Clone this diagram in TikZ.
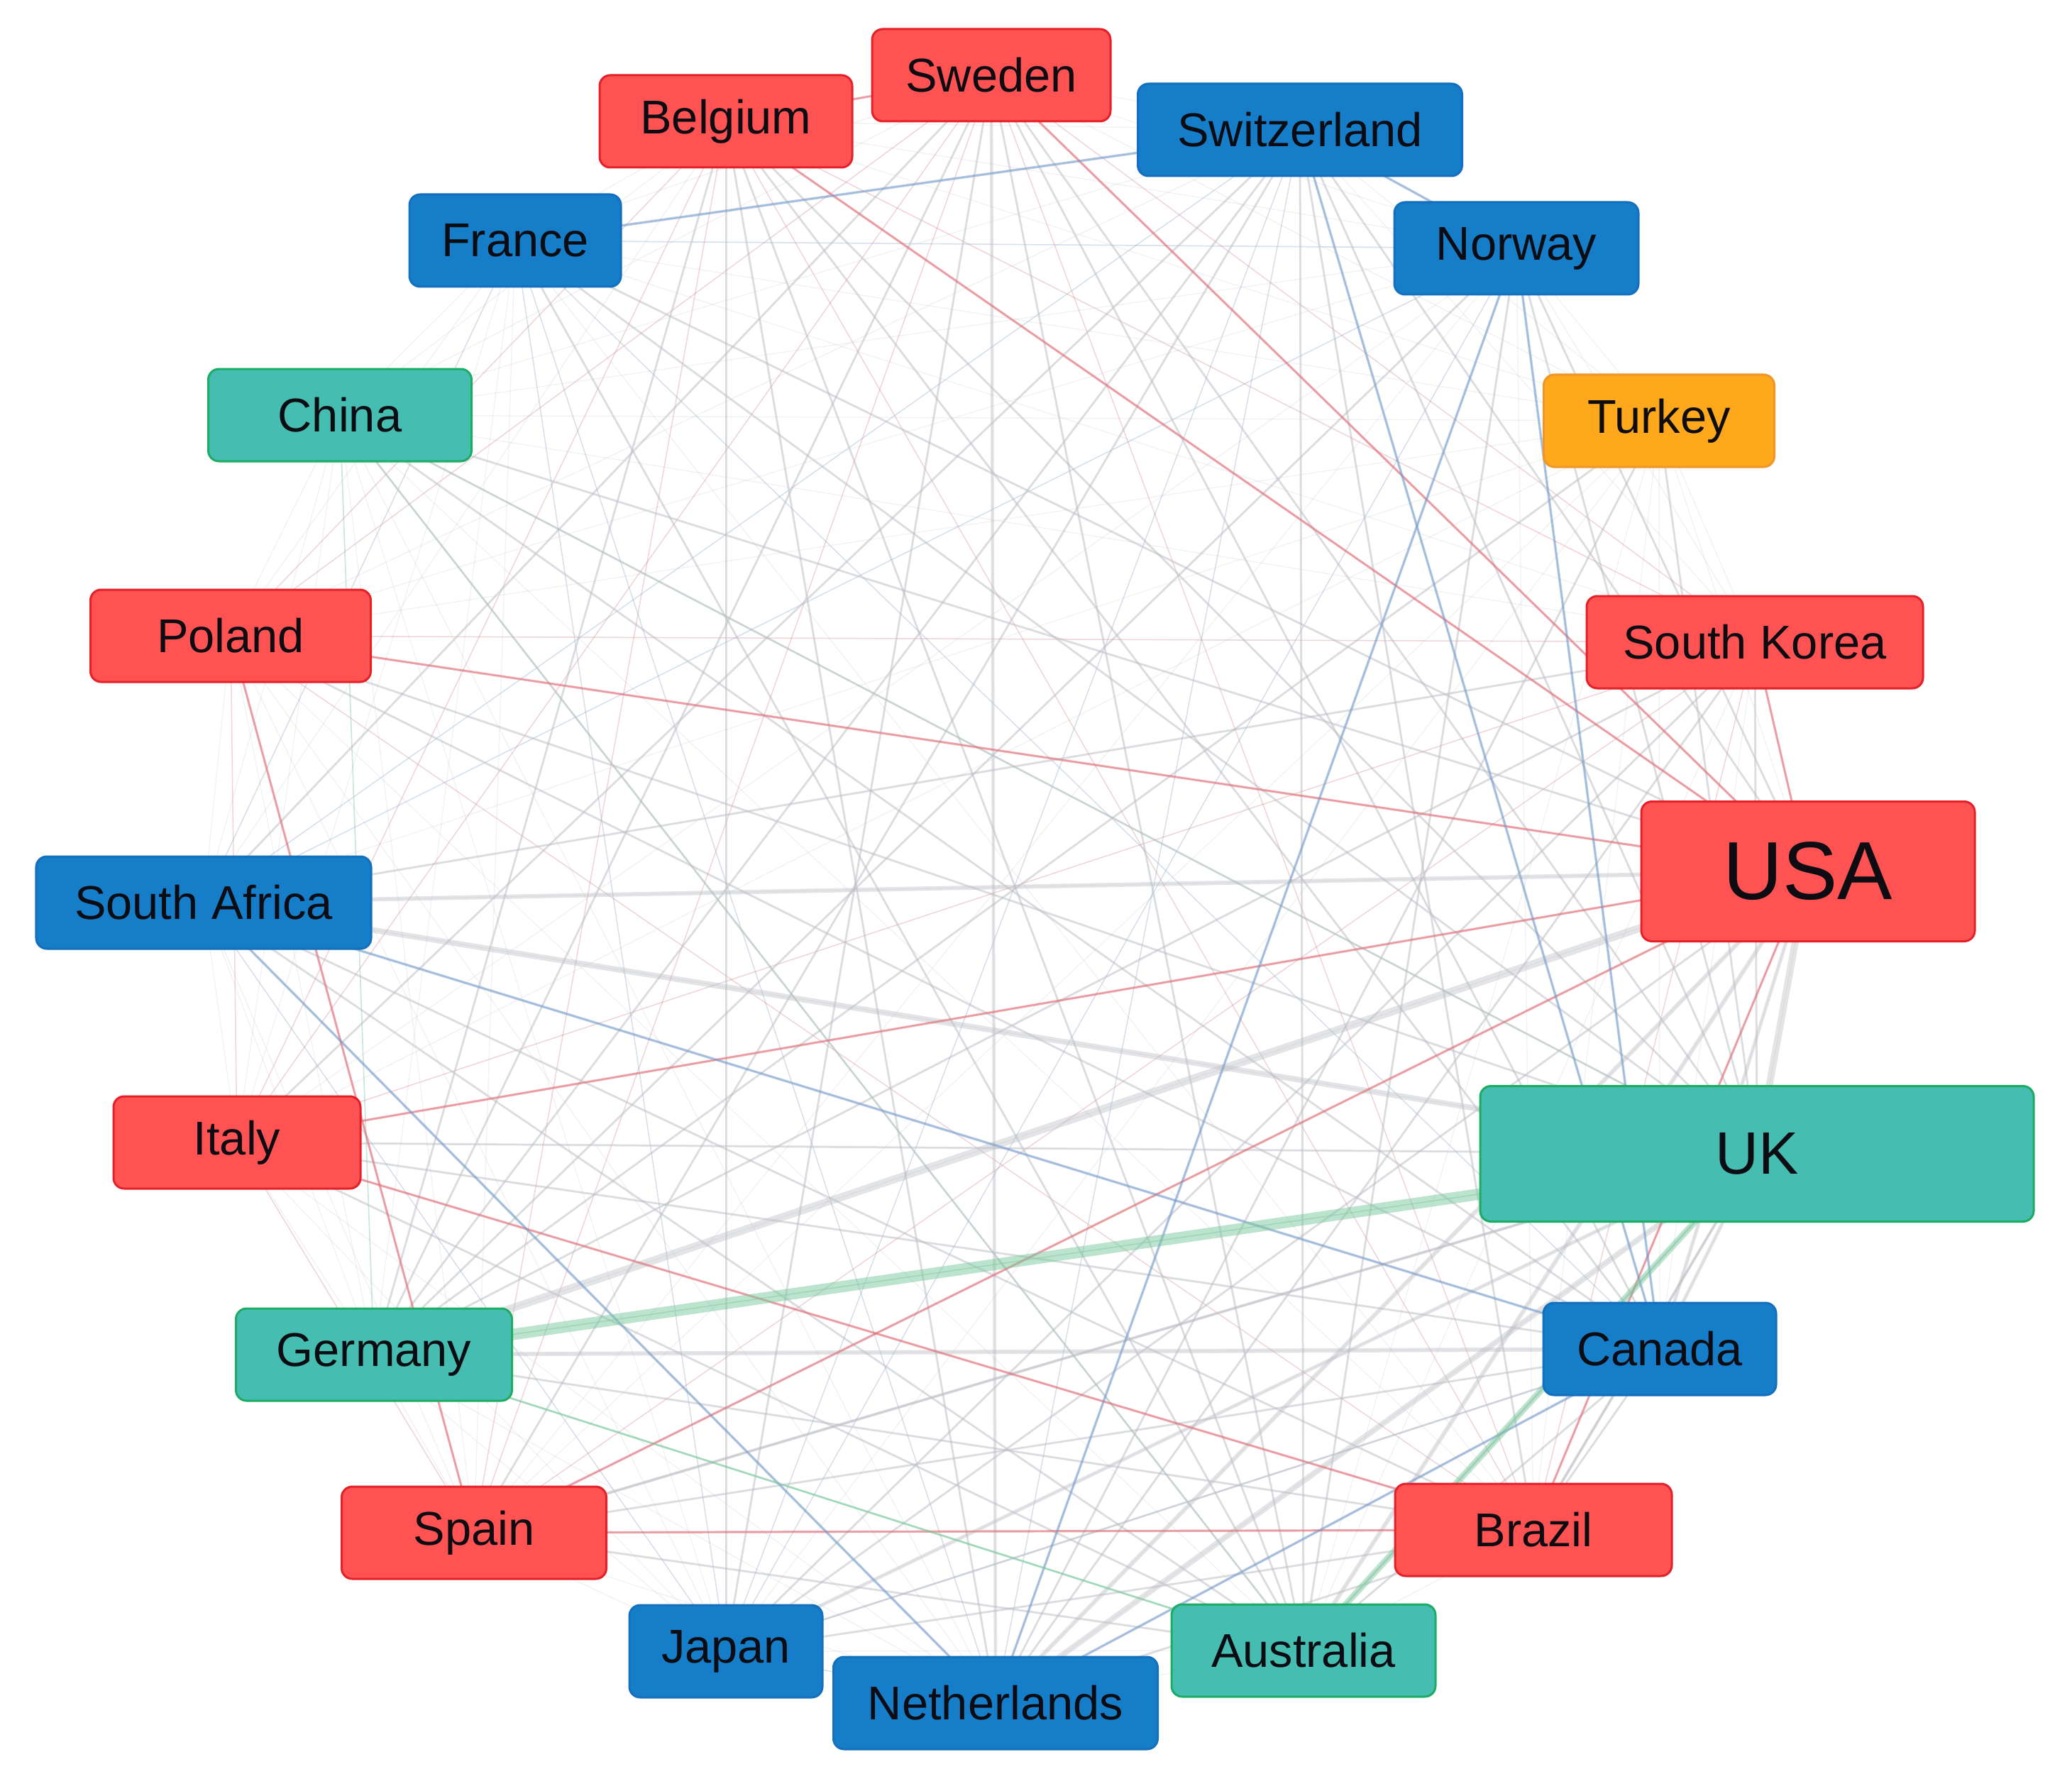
\documentclass[tikz,border=0pt]{standalone}
\usepackage{fontspec}
\setmainfont{Liberation Sans}
\pgfdeclarelayer{background}
\pgfsetlayers{background,main}
\definecolor{redfill}{RGB}{255,82,82}
\definecolor{redline}{RGB}{228,32,40}
\definecolor{bluefill}{RGB}{22,125,200}
\definecolor{blueline}{RGB}{20,112,190}
\definecolor{tealfill}{RGB}{69,189,176}
\definecolor{tealline}{RGB}{28,172,100}
\definecolor{orangefill}{RGB}{255,168,28}
\definecolor{orangeline}{RGB}{238,150,40}
\definecolor{egray}{RGB}{188,190,196}
\definecolor{ered}{RGB}{225,105,115}
\definecolor{eblue}{RGB}{110,150,200}
\definecolor{egreen}{RGB}{120,200,155}
\definecolor{labeltext}{RGB}{12,12,18}
\tikzset{
  box/.style={rectangle, rounded corners=0.15cm, line width=0.03cm, inner sep=0pt,
    text=labeltext, font=\fontsize{19pt}{22pt}\selectfont, minimum height=1.3cm},
  rednode/.style={box, fill=redfill, draw=redline},
  bluenode/.style={box, fill=bluefill, draw=blueline},
  tealnode/.style={box, fill=tealfill, draw=tealline},
  orangenode/.style={box, fill=orangefill, draw=orangeline},
  basegray/.style={line width=0.014cm, draw=egray, opacity=0.2},
  basered/.style={line width=0.016cm, draw=ered, opacity=0.2},
  baseblue/.style={line width=0.016cm, draw=eblue, opacity=0.2},
  basegreen/.style={line width=0.018cm, draw=egreen, opacity=0.3},
  midgray/.style={line width=0.03cm, draw=egray, opacity=0.45},
  thickgray/.style={draw=egray, opacity=0.42},
  redlink/.style={line width=0.032cm, draw=ered, opacity=0.55},
  bluelink/.style={line width=0.035cm, draw=eblue, opacity=0.5},
  greenlink/.style={draw=egreen, opacity=0.5},
}
\begin{document}
\begin{tikzpicture}
\useasboundingbox (0,0) rectangle (29.2,-25);
% nodes
\node[rednode, minimum width=3.36cm] (sweden) at (13.97,-1.06) {Sweden};
\node[rednode, minimum width=3.56cm] (belgium) at (10.23,-1.71) {Belgium};
\node[bluenode, minimum width=4.57cm] (switzerland) at (18.32,-1.83) {Switzerland};
\node[bluenode, minimum width=2.98cm] (france) at (7.26,-3.39) {France};
\node[bluenode, minimum width=3.44cm] (norway) at (21.37,-3.50) {Norway};
\node[tealnode, minimum width=3.71cm] (china) at (4.79,-5.85) {China};
\node[orangenode, minimum width=3.25cm] (turkey) at (23.38,-5.93) {Turkey};
\node[rednode, minimum width=3.95cm] (poland) at (3.25,-8.96) {Poland};
\node[rednode, minimum width=4.74cm] (skorea) at (24.73,-9.05) {South Korea};
\node[rednode, minimum width=4.70cm, minimum height=1.97cm, font=\fontsize{33pt}{38pt}\selectfont] (usa) at (25.48,-12.28) {USA};
\node[bluenode, minimum width=4.72cm] (safrica) at (2.87,-12.72) {South Africa};
\node[rednode, minimum width=3.48cm] (italy) at (3.34,-16.10) {Italy};
\node[tealnode, minimum width=7.80cm, minimum height=1.91cm, font=\fontsize{24pt}{28pt}\selectfont] (uk) at (24.76,-16.26) {UK};
\node[tealnode, minimum width=3.89cm] (germany) at (5.27,-19.09) {Germany};
\node[bluenode, minimum width=3.28cm] (canada) at (23.39,-19.01) {Canada};
\node[rednode, minimum width=3.73cm] (spain) at (6.68,-21.60) {Spain};
\node[rednode, minimum width=3.90cm] (brazil) at (21.61,-21.56) {Brazil};
\node[bluenode, minimum width=2.72cm] (japan) at (10.23,-23.27) {Japan};
\node[tealnode, minimum width=3.72cm] (australia) at (18.37,-23.26) {Australia};
\node[bluenode, minimum width=4.57cm] (netherlands) at (14.03,-24.00) {Netherlands};

\def\allnodes{sweden,belgium,switzerland,france,norway,china,turkey,poland,skorea,usa,safrica,italy,uk,germany,canada,spain,brazil,japan,australia,netherlands}
\def\redgroup{sweden,belgium,poland,skorea,usa,italy,spain,brazil}
\def\bluegroup{switzerland,france,norway,safrica,canada,japan,netherlands}
\def\tealgroup{china,uk,germany,australia}

\begin{pgfonlayer}{background}
% faint web
\foreach \a [count=\i] in \allnodes {
  \foreach \b [count=\j] in \allnodes {
    \ifnum\i<\j \draw[basegray] (\a.center) -- (\b.center); \fi
  }
}
\foreach \a [count=\i] in \redgroup {
  \foreach \b [count=\j] in \redgroup {
    \ifnum\i<\j \draw[basered] (\a.center) -- (\b.center); \fi
  }
}
\foreach \a [count=\i] in \bluegroup {
  \foreach \b [count=\j] in \bluegroup {
    \ifnum\i<\j \draw[baseblue] (\a.center) -- (\b.center); \fi
  }
}
\foreach \a [count=\i] in \tealgroup {
  \foreach \b [count=\j] in \tealgroup {
    \ifnum\i<\j \draw[basegreen] (\a.center) -- (\b.center); \fi
  }
}
% medium gray links
\foreach \a/\b in {china/usa, china/uk, china/canada, belgium/netherlands, belgium/australia,
  belgium/canada, belgium/japan, belgium/germany, belgium/uk, sweden/uk, sweden/canada,
  sweden/australia, sweden/japan, sweden/germany, sweden/safrica, switzerland/usa,
  switzerland/uk, switzerland/brazil, switzerland/australia, switzerland/germany,
  switzerland/spain, switzerland/italy, norway/germany, norway/uk, norway/australia,
  norway/usa, france/uk, france/usa, france/australia, poland/uk, poland/canada, italy/uk,
  italy/canada, spain/uk, spain/canada, japan/usa, japan/canada, australia/canada,
  brazil/uk, brazil/canada, netherlands/brazil, netherlands/skorea, germany/skorea,
  safrica/skorea, germany/brazil, turkey/netherlands, turkey/germany, skorea/uk,
  china/australia, safrica/brazil, japan/brazil, spain/australia, italy/australia,
  turkey/uk, skorea/japan, safrica/australia}
  \draw[midgray] (\a.center) -- (\b.center);
% thick gray links
\foreach \a/\b/\w in {germany/usa/0.11, safrica/uk/0.08, safrica/usa/0.06, germany/canada/0.06,
  usa/uk/0.10, netherlands/uk/0.08, netherlands/usa/0.06, australia/usa/0.06, japan/uk/0.05,
  canada/usa/0.05, brazil/uk/0.04, sweden/netherlands/0.045, spain/uk/0.04, australia/uk/0.03,
  canada/uk/0.05}
  \draw[thickgray, line width=\w cm] (\a.center) -- (\b.center);
% red links
\foreach \a/\b in {sweden/usa, belgium/usa, poland/usa, italy/usa, spain/usa, brazil/usa,
  poland/spain, italy/brazil, spain/brazil, sweden/belgium, skorea/usa}
  \draw[redlink] (\a.center) -- (\b.center);
% blue links
\foreach \a/\b in {france/switzerland, switzerland/norway, safrica/canada, safrica/netherlands,
  norway/canada, norway/netherlands, canada/netherlands, switzerland/canada}
  \draw[bluelink] (\a.center) -- (\b.center);
% green links
\draw[greenlink, line width=0.16cm] (germany.center) -- (uk.center);
\draw[greenlink, line width=0.09cm] (australia.center) -- (uk.center);
\draw[greenlink, line width=0.03cm] (germany.center) -- (australia.center);
\end{pgfonlayer}
\end{tikzpicture}
\end{document}
